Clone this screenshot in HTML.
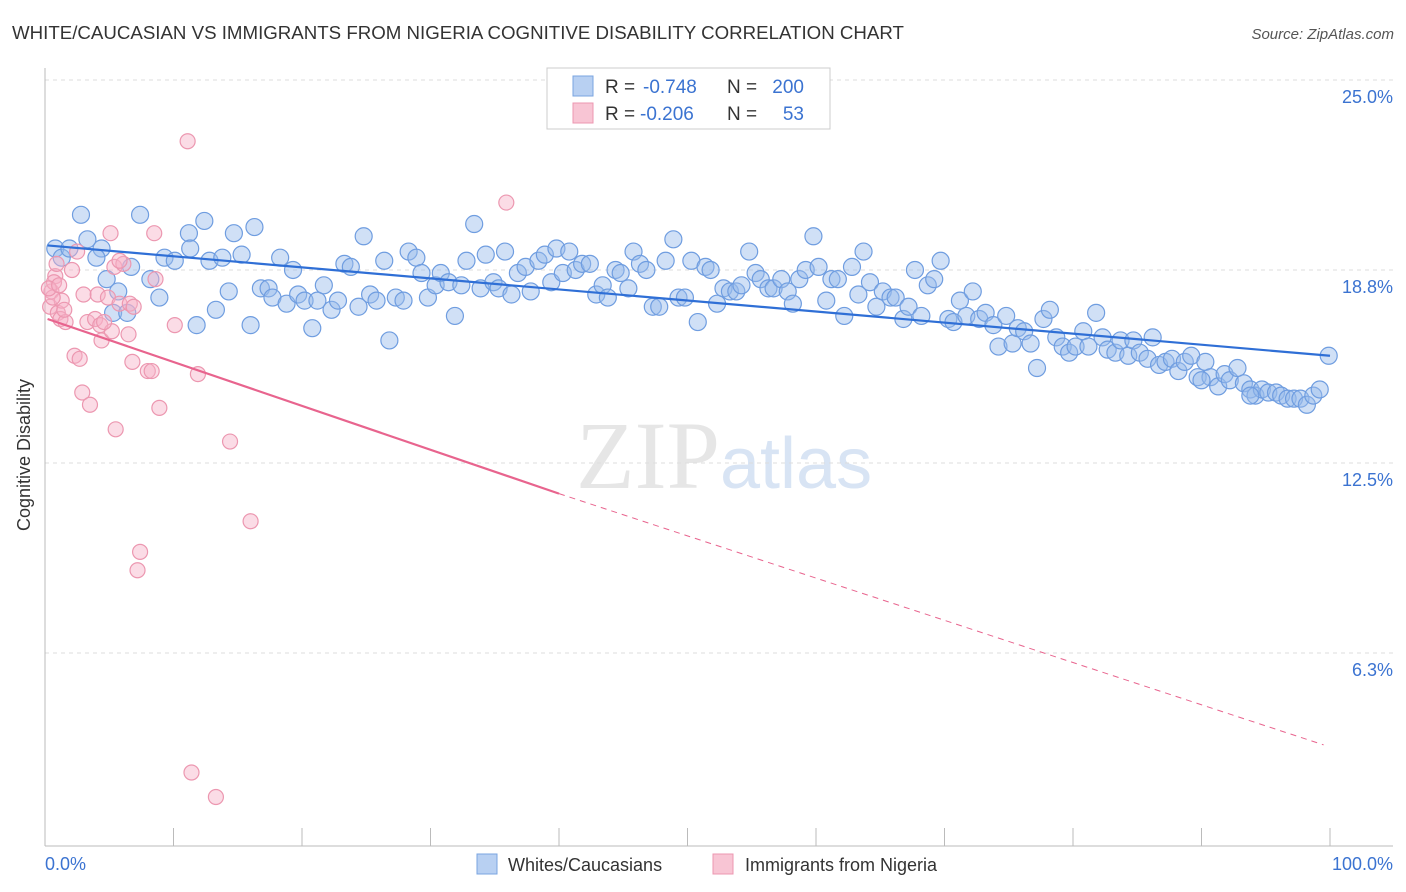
<!DOCTYPE html>
<html><head><meta charset="utf-8">
<style>
body{margin:0;background:#fff;font-family:"Liberation Sans",sans-serif;}
#wrap{position:relative;width:1406px;height:892px;overflow:hidden;}
</style></head>
<body>
<div id="wrap">
<svg id="svg" width="1406" height="892" xmlns="http://www.w3.org/2000/svg">
<text x="12" y="39" font-size="18.7" fill="#333">WHITE/CAUCASIAN VS IMMIGRANTS FROM NIGERIA COGNITIVE DISABILITY CORRELATION CHART</text>
<text x="1394" y="39" font-size="15" fill="#555" font-style="italic" text-anchor="end">Source: ZipAtlas.com</text>
<text x="720" y="488" font-size="96" fill="#e6e6e6" font-family="Liberation Serif,serif" text-anchor="end">ZIP</text>
<text x="720" y="488" font-size="72" fill="#d8e4f4" text-anchor="start">atlas</text>
<g id="grid"></g>
<g id="marks"></g>
<text x="30" y="455" font-size="18" fill="#333" transform="rotate(-90 30 455)" text-anchor="middle">Cognitive Disability</text>
<text x="45" y="870" font-size="18" fill="#3b73d1">0.0%</text>
<text x="1393" y="870" font-size="18" fill="#3b73d1" text-anchor="end">100.0%</text>
<g>
<rect x="547" y="68" width="283" height="61" fill="#fff" stroke="#ccc"/>
<rect x="573" y="76" width="20" height="20" fill="#b8d0f2" stroke="#7aa4e0"/>
<rect x="573" y="103" width="20" height="20" fill="#f8c5d4" stroke="#ec97b0"/>
<text x="605" y="93" font-size="19" fill="#333">R =</text>
<text x="643" y="93" font-size="19" fill="#3b73d1">-0.748</text>
<text x="727" y="93" font-size="19" fill="#333">N =</text>
<text x="804" y="93" font-size="19" fill="#3b73d1" text-anchor="end">200</text>
<text x="605" y="120" font-size="19" fill="#333">R =</text>
<text x="640" y="120" font-size="19" fill="#3b73d1">-0.206</text>
<text x="727" y="120" font-size="19" fill="#333">N =</text>
<text x="804" y="120" font-size="19" fill="#3b73d1" text-anchor="end">53</text>
</g>
<g>
<rect x="477" y="854" width="20" height="20" fill="#b8d0f2" stroke="#7aa4e0"/>
<text x="508" y="871" font-size="18" fill="#333">Whites/Caucasians</text>
<rect x="713" y="854" width="20" height="20" fill="#f8c5d4" stroke="#ec97b0"/>
<text x="745" y="871" font-size="18" fill="#333">Immigrants from Nigeria</text>
</g>
</svg>
</div>
<script>
const yTicks=[25.0,18.8,12.5,6.3];
const yTickLabels=["25.0%","18.8%","12.5%","6.3%"];
const xTicks=[0,10,20,30,40,50,60,70,80,90,100];
const blueX=[0.8,2.8,3.3,1.3,1.9,4.4,4,4.8,5.7,5.3,6.4,6.7,7.4,8.2,8.9,9.3,10.1,11.2,11.3,11.8,12.4,12.8,13.3,13.8,14.3,14.7,15.3,16,16.3,16.8,17.4,17.7,18.3,18.8,19.3,19.7,20.2,20.8,21.2,21.7,22.3,22.8,23.3,23.8,24.4,24.8,25.3,25.8,26.4,26.8,27.3,27.9,28.3,28.9,29.3,29.8,30.4,30.8,31.4,31.9,32.4,32.8,33.4,33.9,34.3,34.9,35.3,35.8,36.3,36.8,37.4,37.8,38.4,38.9,39.4,39.8,40.3,40.8,41.3,41.8,42.4,42.9,43.4,43.8,44.4,44.8,45.4,45.8,46.3,46.8,47.3,47.8,48.3,48.9,49.3,49.8,50.3,50.8,51.4,51.8,52.3,52.8,53.3,53.8,54.2,54.8,55.3,55.7,56.3,56.7,57.3,57.8,58.2,58.7,59.2,59.8,60.2,60.8,61.2,61.7,62.2,62.8,63.3,63.7,64.2,64.7,65.2,65.8,66.2,66.8,67.2,67.7,68.2,68.7,69.2,69.7,70.3,70.7,71.2,71.7,72.2,72.7,73.2,73.8,74.2,74.8,75.3,75.7,76.2,76.7,77.2,77.7,78.2,78.7,79.2,79.7,80.2,80.8,81.2,81.8,82.3,82.7,83.3,83.7,84.3,84.7,85.2,85.8,86.2,86.7,87.2,87.7,88.2,88.7,89.2,89.7,90.3,90.7,91.3,91.8,92.2,92.8,93.3,93.8,94.2,94.7,95.2,95.8,96.2,96.7,97.2,97.7,98.2,98.7,99.2,99.9,90,93.8];
const blueY=[19.5,20.6,19.8,19.2,19.5,19.5,19.2,18.5,18.1,17.4,17.4,18.9,20.6,18.5,17.9,19.2,19.1,20,19.5,17,20.4,19.1,17.5,19.2,18.1,20,19.3,17,20.2,18.2,18.2,17.9,19.2,17.7,18.8,18,17.8,16.9,17.8,18.3,17.5,17.8,19,18.9,17.6,19.9,18,17.8,19.1,16.5,17.9,17.8,19.4,19.2,18.7,17.9,18.3,18.7,18.4,17.3,18.3,19.1,20.3,18.2,19.3,18.4,18.2,19.4,18,18.7,18.9,18.1,19.1,19.3,18.4,19.5,18.7,19.4,18.8,19,19,18,18.3,17.9,18.8,18.7,18.2,19.4,19,18.8,17.6,17.6,19.1,19.8,17.9,17.9,19.1,17.1,18.9,18.8,17.7,18.2,18.1,18.1,18.3,19.4,18.7,18.5,18.2,18.2,18.5,18.1,17.7,18.5,18.8,19.9,18.9,17.8,18.5,18.5,17.3,18.9,18,19.4,18.4,17.6,18.1,17.9,17.9,17.2,17.6,18.8,17.3,18.3,18.5,19.1,17.2,17.1,17.8,17.3,18.1,17.2,17.4,17,16.3,17.3,16.4,16.9,16.8,16.4,15.6,17.2,17.5,16.6,16.3,16.1,16.3,16.8,16.3,17.4,16.6,16.2,16.1,16.5,16,16.5,16.1,15.9,16.6,15.7,15.8,15.9,15.5,15.8,16,15.3,15.8,15.3,15,15.4,15.2,15.6,15.1,14.9,14.7,14.9,14.8,14.8,14.7,14.6,14.6,14.6,14.4,14.7,14.9,16,15.2,14.7];
const pinkX=[0.4,0.5,0.8,0.7,1,1.2,1.3,1.6,2.1,2.3,2.7,2.9,3,3.5,3.3,3.9,4.1,4.3,4.4,4.9,5.1,5.2,5.4,5.5,5.8,6.1,6.5,6.6,6.8,7.2,7.4,8,8.3,8.5,8.6,8.9,10.1,11.1,11.4,11.9,13.3,14.4,16,35.9,0.9,0.6,1.5,5.8,0.3,1.1,2.5,4.6,6.9];
const pinkY=[17.6,18.1,18.6,18.4,17.4,17.2,17.8,17.1,18.8,16,15.9,14.8,18,14.4,17.1,17.2,18,17,16.5,17.9,20,16.8,18.9,13.6,17.7,19,16.7,17.7,15.8,9,9.6,15.5,15.5,20,18.5,14.3,17,23,2.4,15.4,1.6,13.2,10.6,21,19,17.9,17.5,19.1,18.2,18.3,19.4,17.1,17.6];
const blueTrend=[[0.2,19.6],[100,16.0]];
const pinkTrend=[[0.2,17.2],[40,11.5],[99.5,3.3]];

const X0=45,X1=1330,Y25=80,PX=30.64;
function sx(v){return X0+(X1-X0)*v/100;}
function sy(v){return Y25+(25-v)*PX;}
const NS="http://www.w3.org/2000/svg";
function mk(tag,attrs,parent){const e=document.createElementNS(NS,tag);for(const k in attrs)e.setAttribute(k,attrs[k]);parent.appendChild(e);return e;}
const grid=document.getElementById('grid'),marks=document.getElementById('marks'),svg=document.getElementById('svg');
yTicks.forEach((t,i)=>{
 const l=mk('line',{x1:45,x2:1393,y1:sy(t),y2:sy(t),stroke:'#ddd','stroke-dasharray':'4,4'},grid);
 
 
 const tx=mk('text',{x:1393,y:sy(t)+23,'font-size':18,fill:'#3b73d1','text-anchor':'end'},svg);
 tx.textContent=yTickLabels[i];
 
 
});
const ax=mk('line',{x1:45,x2:1393,y1:846,y2:846,stroke:'#bbb'},grid);


const ay=mk('line',{x1:45,x2:45,y1:68,y2:846,stroke:'#bbb'},grid);


xTicks.forEach(t=>{
 const l=mk('line',{x1:sx(t),x2:sx(t),y1:828,y2:846,stroke:'#bbb'},grid);
 
 
});
blueX.forEach((x,i)=>{
 const c=mk('circle',{cx:sx(x),cy:sy(blueY[i]),r:8.5,fill:'rgba(150,186,236,0.45)',stroke:'#6f9de0','stroke-width':1.2},marks);
 
 
});
pinkX.forEach((x,i)=>{
 const c=mk('circle',{cx:sx(x),cy:sy(pinkY[i]),r:7.5,fill:'rgba(246,178,200,0.45)',stroke:'#ec97b0','stroke-width':1.2},marks);
 
 
});
const bt=mk('line',{x1:sx(blueTrend[0][0]),y1:sy(blueTrend[0][1]),x2:sx(blueTrend[1][0]),y2:sy(blueTrend[1][1]),stroke:'#2f6fd6','stroke-width':2.2},marks);


const pt=mk('line',{x1:sx(pinkTrend[0][0]),y1:sy(pinkTrend[0][1]),x2:sx(pinkTrend[1][0]),y2:sy(pinkTrend[1][1]),stroke:'#e8648e','stroke-width':2.2},marks);


const pd=mk('line',{x1:sx(pinkTrend[1][0]),y1:sy(pinkTrend[1][1]),x2:sx(pinkTrend[2][0]),y2:sy(pinkTrend[2][1]),stroke:'#e8648e','stroke-width':1,'stroke-dasharray':'6,5'},marks);


</script>
</body></html>
